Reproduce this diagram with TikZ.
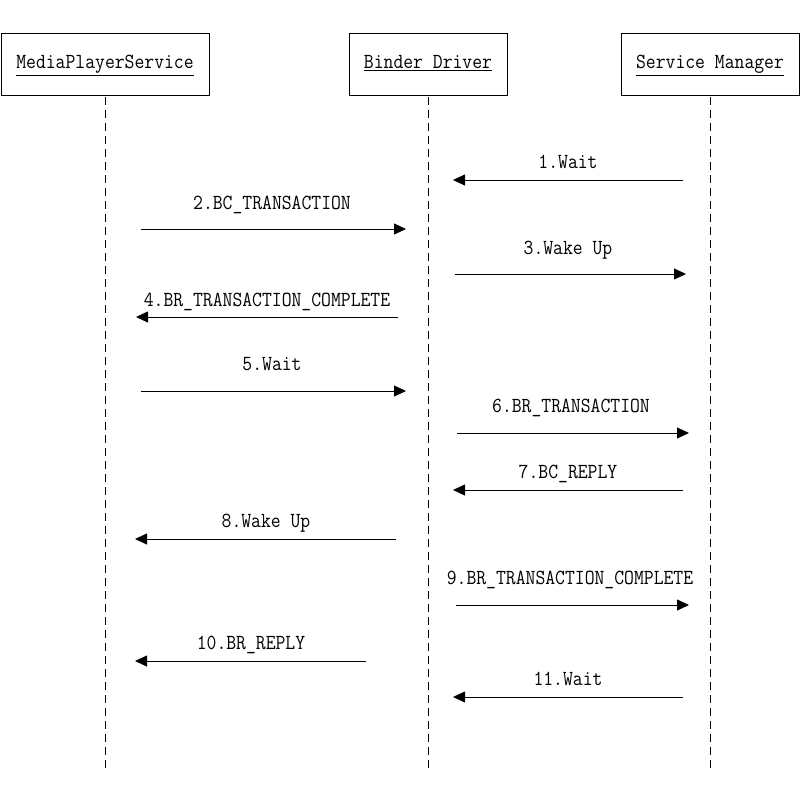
\documentclass[tikz,border=0pt]{standalone}
\usepackage{fontspec}
\usepackage{graphicx}
\usetikzlibrary{arrows.meta}
\newcommand\diagtext{\ttfamily\fontsize{21.5}{24}\selectfont}
\newcommand\narrow[1]{\scalebox{0.89}[1]{#1}}
\begin{document}
\begin{tikzpicture}[x=1pt,y=-1pt,
  actor/.style={draw,line width=0.8pt,minimum height=62pt,inner sep=0pt},
  lifeline/.style={line width=0.8pt,dash pattern=on 8pt off 5pt},
  msg/.style={line width=0.8pt,-{Triangle[length=12pt,width=11pt]}},
  lbl/.style={anchor=base,inner sep=0pt,font=\diagtext},
  hdr/.style={anchor=base,inner sep=0pt,font=\diagtext}]
\useasboundingbox (0,0) rectangle (800,800);
\fill[white] (0,0) rectangle (800,800);
% actor boxes
\node[actor,minimum width=208pt] (mps) at (105,64) {};
\node[actor,minimum width=158pt] (bd) at (428,64) {};
\node[actor,minimum width=178pt] (sm) at (710,64) {};
\node[hdr] (mpst) at (105,69) {\narrow{\underline{MediaPlayerService}}};
\node[hdr] (bdt) at (428,69) {\narrow{\underline{Binder Driver}}};
\node[hdr] (smt) at (710,69) {\narrow{\underline{Service Manager}}};
% lifelines
\coordinate (mpsE) at (105,768);
\coordinate (bdE) at (428,768);
\coordinate (smE) at (710,768);
\draw[lifeline] ([yshift=-2pt]mps.south) -- (mpsE);
\draw[lifeline] ([yshift=-2pt]bd.south) -- (bdE);
\draw[lifeline] ([yshift=-2pt]sm.south) -- (smE);
% message end points
\coordinate (a1s) at (683,180); \coordinate (a1e) at (453,180);
\coordinate (a2s) at (141,229); \coordinate (a2e) at (406,229);
\coordinate (a3s) at (455,274); \coordinate (a3e) at (686,274);
\coordinate (a4s) at (398,317); \coordinate (a4e) at (136,317);
\coordinate (a5s) at (141,391); \coordinate (a5e) at (406,391);
\coordinate (a6s) at (457,433); \coordinate (a6e) at (689,433);
\coordinate (a7s) at (683,490); \coordinate (a7e) at (453,490);
\coordinate (a8s) at (396,539); \coordinate (a8e) at (135,539);
\coordinate (a9s) at (456,605); \coordinate (a9e) at (689,605);
\coordinate (a10s) at (366,661); \coordinate (a10e) at (135,661);
\coordinate (a11s) at (683,697); \coordinate (a11e) at (453,697);
\draw[msg] (a1s) -- (a1e);
\draw[msg] (a2s) -- (a2e);
\draw[msg] (a3s) -- (a3e);
\draw[msg] (a4s) -- (a4e);
\draw[msg] (a5s) -- (a5e);
\draw[msg] (a6s) -- (a6e);
\draw[msg] (a7s) -- (a7e);
\draw[msg] (a8s) -- (a8e);
\draw[msg] (a9s) -- (a9e);
\draw[msg] (a10s) -- (a10e);
\draw[msg] (a11s) -- (a11e);
% labels
\node[lbl] (l1) at (568,168) {\narrow{1.Wait}};
\node[lbl] (l2) at (272,209) {\narrow{2.BC\_TRANSACTION}};
\node[lbl] (l3) at (568,254) {\narrow{3.Wake Up}};
\node[lbl] (l4) at (267,306) {\narrow{4.BR\_TRANSACTION\_COMPLETE}};
\node[lbl] (l5) at (272,370) {\narrow{5.Wait}};
\node[lbl] (l6) at (571,412) {\narrow{6.BR\_TRANSACTION}};
\node[lbl] (l7) at (568,478) {\narrow{7.BC\_REPLY}};
\node[lbl] (l8) at (266,527) {\narrow{8.Wake Up}};
\node[lbl] (l9) at (570,584) {\narrow{9.BR\_TRANSACTION\_COMPLETE}};
\node[lbl] (l10) at (251,649) {\narrow{10.BR\_REPLY}};
\node[lbl] (l11) at (568,685) {\narrow{11.Wait}};
\end{tikzpicture}
\end{document}
